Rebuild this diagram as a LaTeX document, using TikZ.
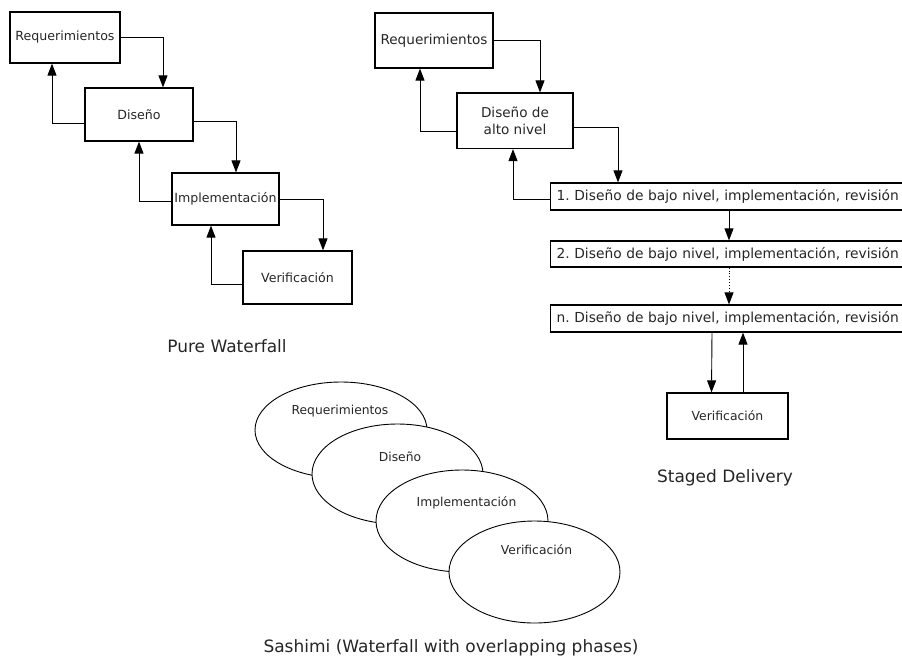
\documentclass[tikz,border=0pt]{standalone}
\usepackage{fontspec}
\setmainfont{DejaVu Sans}
\usetikzlibrary{arrows.meta,calc,shapes.geometric}
\frenchspacing

\tikzset{
  phase/.style={draw=black, line width=1.2pt, fill=white, inner sep=0pt, align=center, text=black!85},
  pwfont/.style={font=\fontsize{12.6}{15}\selectfont},
  sdfont/.style={font=\fontsize{13.6}{16.6}\selectfont},
  stage/.style={phase, anchor=west, text width=350pt, align=left, inner xsep=6pt, inner ysep=0pt,
                font=\fontsize{13.8}{16}\selectfont},
  blob/.style={draw=black, line width=0.9pt, fill=white, ellipse, inner sep=0pt},
  blobtext/.style={font=\fontsize{12.3}{15}\selectfont, text=black!85},
  caption/.style={anchor=base, font=\fontsize{17}{20}\selectfont, text=black!85},
  arr/.style={line width=0.9pt, -{Triangle[length=12pt,width=9pt]}},
}

\begin{document}
\begin{tikzpicture}[x=1pt, y=-1pt]
\useasboundingbox (0,0) rectangle (902,657);
\clip (0,0) rectangle (902,657);
\fill[white] (0,0) rectangle (902,657);

% ---------------- Pure Waterfall ----------------
\node[phase, pwfont, minimum width=110pt, minimum height=51pt] (pr) at (65,37.5) {Requerimientos};
\node[phase, pwfont, minimum width=108pt, minimum height=53pt] (pd) at (139,114.5) {Diseño};
\node[phase, pwfont, minimum width=107pt, minimum height=52pt] (pi) at (225.5,199) {Implementación};
\node[phase, pwfont, minimum width=109pt, minimum height=53pt] (pv) at (297.5,277.5) {Verificación};

% forward flow
\draw[arr] ($(pr.east)+(0,-0.5)$) -| ($(pd.north)+(24,0)$);
\draw[arr] ($(pd.east)+(0,6.5)$) -| ($(pi.north)+(10.5,0)$);
\draw[arr] (pi.east) -| ($(pv.north)+(25.5,0)$);
% feedback
\draw[arr] ($(pd.west)+(0,8.5)$) -| ($(pr.south)+(-13,0)$);
\draw[arr] ($(pi.west)+(0,2)$) -| (pd.south);
\draw[arr] ($(pv.west)+(0,6.5)$) -| ($(pi.south)+(-14.5,0)$);

\node[caption] (pwcap) at (227,352) {Pure Waterfall};

% ---------------- Staged Delivery ----------------
\node[phase, sdfont, minimum width=118pt, minimum height=55pt] (sr) at (434,40.5) {Requerimientos};
\node[phase, sdfont, minimum width=116pt, minimum height=55.5pt] (sd) at (515,120.75) {Diseño de\\alto nivel};
\node[stage, minimum height=27pt] (s1) at (550,196.5) {1. Diseño de bajo nivel, implementación, revisión};
\node[stage, minimum height=26pt] (s2) at (550,254) {2. Diseño de bajo nivel, implementación, revisión};
\node[stage, minimum height=27pt] (sn) at (550,318.5) {n. Diseño de bajo nivel, implementación, revisión};
\node[phase, font=\fontsize{12.4}{15}\selectfont, minimum width=121pt, minimum height=46pt] (sv) at (727.5,416) {Verificación};

\draw[arr] ($(sr.east)+(0,-0.5)$) -| ($(sd.north)+(25,0)$);
\draw[arr] ($(sd.east)+(0,7)$) -| ($(s1.north west)+(68,0)$);
\draw[arr] ($(s1.west)+(0,2.5)$) -| ($(sd.south)+(-2,0)$);
\draw[arr] ($(sd.west)+(0,10.5)$) -| ($(sr.south)+(-14,0)$);
\draw[arr] ($(s1.south west)+(179,0)$) -- ($(s2.north west)+(179,0)$);
\draw[arr, dotted] ($(s2.south west)+(179,0)$) -- ($(sn.north west)+(179,0)$);
\draw[arr] ($(sn.south west)+(162,0)$) -- ($(sv.north)+(-16,0)$);
\draw[arr] ($(sv.north)+(15.5,0)$) -- ($(sn.south west)+(193,0)$);

\node[caption] (sdcap) at (725,482) {Staged Delivery};

% ---------------- Sashimi ----------------
\node[blob, minimum width=172pt, minimum height=96pt] (e1) at (341,430) {};
\node[blob, minimum width=171pt, minimum height=100pt] (e2) at (397.5,474) {};
\node[blob, minimum width=172pt, minimum height=102pt] (e3) at (462,521) {};
\node[blob, minimum width=171pt, minimum height=102pt] (e4) at (534.5,572) {};
\node[blobtext] (t1) at (340,411) {Requerimientos};
\node[blobtext] (t2) at (400,457) {Diseño};
\node[blobtext] (t3) at (466.5,503) {Implementación};
\node[blobtext] (t4) at (536.5,550) {Verificación};

\node[caption] (sacap) at (451,652) {Sashimi (Waterfall with overlapping phases)};
\end{tikzpicture}
\end{document}
